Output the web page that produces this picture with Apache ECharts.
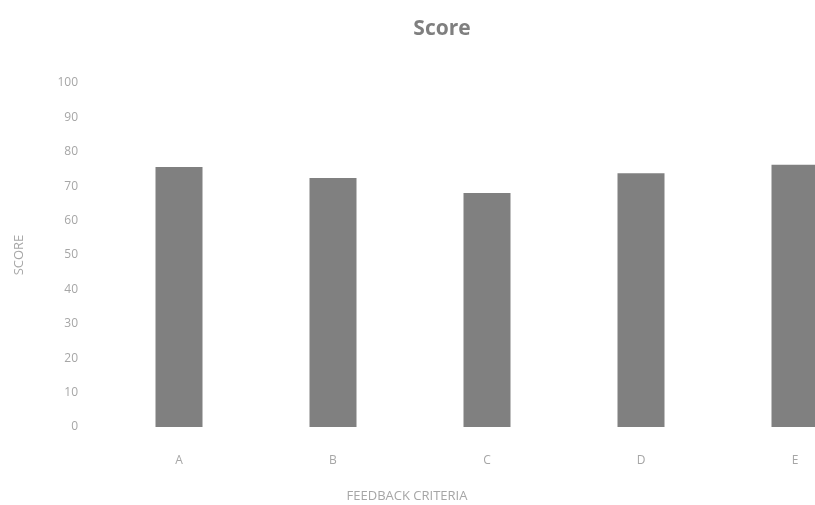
<!DOCTYPE html>
<html>
<head>
<meta charset="utf-8">
<script src="https://cdn.jsdelivr.net/npm/echarts@6/dist/echarts.min.js"></script>
<style>
  html, body { margin: 0; padding: 0; background: #fff; }
  #chart { width: 815px; height: 505px; }
</style>
</head>
<body>
<div id="chart"></div>
<script>
  // data
  const criteria = ['A', 'B', 'C', 'D', 'E'];
  const scores = [75.6, 72.4, 68, 73.8, 76.2];

  const chart = echarts.init(document.getElementById('chart'));
  const font = 'Open Sans';

  chart.setOption({
    backgroundColor: '#ffffff',
    animation: false,
    title: [
      {
        text: 'Score',
        left: 437,
        top: 14,
        textAlign: 'center',
        textStyle: { fontFamily: font, fontSize: 21, fontWeight: 'bold', color: '#7f7f7f' }
      },
      {
        // x axis name, centred under the visible part of the plot
        text: 'FEEDBACK CRITERIA',
        left: 402,
        top: 485,
        textAlign: 'center',
        textStyle: { fontFamily: font, fontSize: 13, fontWeight: 'normal', color: '#a6a6a6' }
      }
    ],
    grid: {
      left: 102,
      width: 770,   // last category runs off the right edge, as in the original
      top: 83,
      bottom: 78,
      outerBoundsMode: 'none'
    },
    xAxis: {
      type: 'category',
      data: criteria,
      axisLine: { show: false },
      axisTick: { show: false },
      axisLabel: { margin: 28, fontFamily: font, fontSize: 12, color: '#a6a6a6' }
    },
    yAxis: {
      type: 'value',
      min: 0,
      max: 100,
      interval: 10,
      name: 'SCORE',
      nameLocation: 'middle',
      nameGap: 76,
      nameTextStyle: { fontFamily: font, fontSize: 13, color: '#a6a6a6' },
      splitLine: { show: false },
      axisLine: { show: false },
      axisTick: { show: false },
      axisLabel: { margin: 24, fontFamily: font, fontSize: 12, color: '#a6a6a6' }
    },
    series: [
      {
        name: 'Score',
        type: 'bar',
        data: scores,
        barWidth: 47,
        itemStyle: { color: '#808080' }
      }
    ]
  });
</script>
</body>
</html>
